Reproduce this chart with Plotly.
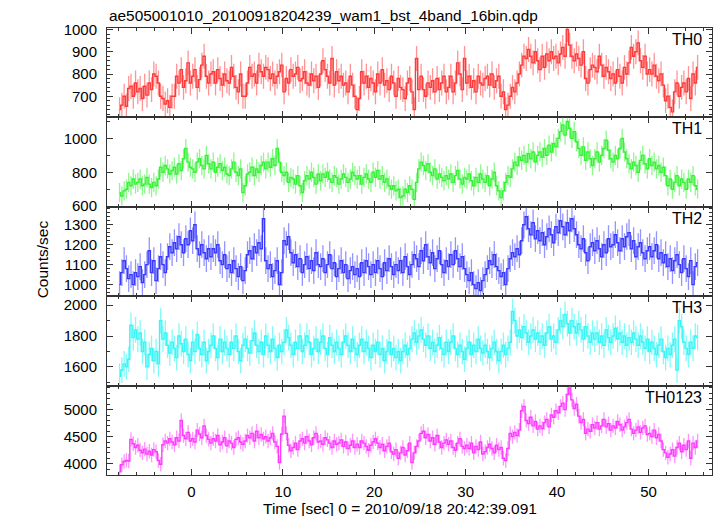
import numpy as np
import plotly.graph_objects as go
from plotly.subplots import make_subplots

title = "ae505001010_20100918204239_wam1_bst_4band_16bin.qdp"
x_title = "Time [sec] 0 = 2010/09/18 20:42:39.091"
y_title = "Counts/sec"
t_start = -8.0
bin_width = 0.25
panel_names = ["TH0", "TH1", "TH2", "TH3", "TH0123"]

th0 = [
    640, 660, 700, 655, 735, 745, 700, 760,
    720, 735, 690, 745, 705, 760, 730, 800,
    790, 760, 700, 690, 665, 680, 650, 700,
    700, 790, 760, 820, 740, 770, 850, 760,
    790, 820, 740, 775, 840, 880, 790, 760,
    800, 810, 760, 820, 780, 750, 800, 770,
    760, 830, 790, 740, 720, 800, 700, 700,
    760, 830, 790, 800, 760, 840, 810, 790,
    830, 820, 780, 800, 760, 790, 810, 840,
    720, 780, 760, 820, 790, 800, 830, 770,
    780, 810, 760, 750, 800, 770, 790, 740,
    800, 860, 820, 790, 760, 870, 750, 810,
    770, 790, 750, 760, 720, 790, 750, 700,
    640, 690, 810, 760, 790, 740, 780, 760,
    720, 800, 760, 820, 750, 770, 730, 790,
    760, 700, 780, 740, 730, 690, 760, 780,
    720, 640, 870, 730, 790, 730, 700, 760,
    740, 770, 720, 780, 730, 760, 790, 720,
    740, 790, 720, 760, 850, 800, 730, 870,
    760, 790, 740, 770, 720, 790, 760, 750,
    780, 790, 750, 800, 740, 770, 790, 700,
    720, 640, 660, 700, 740, 720, 760, 800,
    840, 880, 870, 910, 880, 850, 900, 860,
    820, 880, 830, 890, 860, 900, 870, 880,
    850, 890, 920, 880, 1000, 930, 880, 860,
    890, 870, 840, 900, 780, 760, 820, 840,
    830, 810, 880, 840, 790, 830, 810, 780,
    800, 760, 820, 790, 760, 830, 800, 850,
    920, 880, 900, 940, 860, 830, 880, 800,
    820, 800, 840, 790, 770, 800, 750, 680,
    700, 650, 630, 720, 760, 700, 740, 760,
    720, 780, 690, 800, 760, 830,
]

th1 = [
    680, 660, 690, 700, 740, 720, 760, 730,
    740, 760, 720, 730, 770, 730, 710, 740,
    720, 760, 830, 800, 840, 820, 790, 810,
    830, 790, 850, 810, 880, 940, 860, 830,
    820, 800, 860, 880, 840, 820, 900, 850,
    820, 860, 800, 830, 850, 810, 830, 790,
    780, 820, 860, 800, 780, 820, 680, 720,
    790, 800, 830, 780, 820, 800, 840, 860,
    820, 860, 830, 880, 840, 940, 860, 800,
    780, 800, 740, 770, 760, 730, 780, 720,
    680, 750, 780, 760, 800, 770, 730, 790,
    750, 790, 770, 800, 760, 740, 780, 770,
    730, 760, 790, 770, 740, 760, 800, 780,
    760, 780, 730, 770, 790, 760, 740, 800,
    770, 810, 760, 780, 740, 760, 720, 700,
    720, 690, 700, 650, 660, 700, 680, 720,
    700, 640, 740, 820, 860, 840, 810, 850,
    800, 780, 820, 760, 790, 770, 750, 780,
    760, 790, 740, 780, 810, 760, 730, 770,
    760, 790, 750, 720, 770, 740, 790, 760,
    740, 780, 720, 760, 800, 720, 690, 650,
    690, 740, 780, 770, 820, 860, 840, 890,
    870, 900, 860, 910, 880, 920, 860, 900,
    920, 890, 940, 900, 960, 920, 970, 950,
    1000, 1040, 1080, 1020, 1100, 1060, 1000, 1040,
    980, 940, 900, 950, 870, 920, 880, 840,
    880, 920, 860, 900, 940, 990, 930, 880,
    860, 900, 880, 940, 1000, 920, 880, 850,
    820, 860, 840, 800, 870, 900, 850, 820,
    880, 840, 860, 820, 840, 800, 830, 780,
    720, 760, 700, 740, 780, 720, 760, 740,
    700, 760, 740, 780, 720, 700,
]

th2 = [
    1000, 1060, 1120, 1080, 1030, 1050, 1000, 1060,
    1040, 1090, 1010, 1050, 1100, 1170, 1060, 1120,
    1020, 1080, 1140, 1100, 1060, 1140, 1190, 1160,
    1210, 1180, 1240, 1200, 1160, 1230, 1200, 1270,
    1220, 1300, 1180, 1150, 1200, 1160, 1130, 1180,
    1140, 1180, 1160, 1200, 1120, 1100, 1150, 1080,
    1100, 1060, 1120, 1080, 1040, 1090, 1020, 1070,
    1150, 1170, 1130, 1190, 1160, 1210, 1180, 1330,
    1120, 1080, 1100, 1040, 1070, 1120, 1000, 1060,
    1220, 1200, 1240, 1160, 1110, 1150, 1090, 1130,
    1060, 1100, 1140, 1080, 1120, 1070, 1160, 1100,
    1090, 1130, 1060, 1100, 1150, 1080, 1110, 1040,
    1080, 1120, 1060, 1100, 1030, 1070, 1090, 1050,
    1080, 1040, 1110, 1060, 1120, 1090, 1050, 1100,
    1060, 1120, 1080, 1040, 1110, 1070, 1130, 1090,
    1050, 1100, 1070, 1120, 1060, 1140, 1090, 1050,
    1100, 1150, 1130, 1090, 1170, 1120, 1200, 1140,
    1110, 1160, 1080, 1130, 1170, 1100, 1060, 1120,
    1090, 1150, 1100, 1170, 1130, 1090, 1140, 1080,
    1050, 1020, 1060, 1000, 980, 1010, 970, 1020,
    1050, 1080, 1120, 1100, 1150, 1090, 1070, 1040,
    1060, 1000, 1080, 1130, 1160, 1140, 1180, 1150,
    1220, 1300, 1340, 1280, 1250, 1310, 1230, 1270,
    1220, 1260, 1200, 1240, 1280, 1250, 1210, 1290,
    1260, 1320, 1290, 1250, 1310, 1270, 1330, 1280,
    1250, 1200, 1180, 1230, 1160, 1120, 1190, 1210,
    1170, 1220, 1180, 1140, 1200, 1160, 1230, 1190,
    1200, 1250, 1210, 1170, 1230, 1190, 1240, 1260,
    1180, 1220, 1140, 1190, 1210, 1160, 1130, 1170,
    1190, 1140, 1170, 1200, 1130, 1160, 1110, 1150,
    1090, 1130, 1070, 1120, 1150, 1100, 1060, 1130,
    1080, 1040, 1120, 1000, 1090, 1110,
]

th3 = [
    1540, 1580, 1620, 1600, 1650, 1870, 1790, 1840,
    1780, 1820, 1700, 1760, 1600, 1680, 1720, 1640,
    1700, 1620, 1900, 1780, 1820, 1740, 1690, 1760,
    1720, 1660, 1800, 1750, 1700, 1780, 1680, 1640,
    1760, 1700, 1810, 1720, 1680, 1760, 1640, 1700,
    1740, 1800, 1720, 1660, 1780, 1700, 1760, 1720,
    1680, 1760, 1720, 1800, 1700, 1640, 1740, 1780,
    1720, 1690, 1770, 1820, 1740, 1700, 1760, 1680,
    1800, 1740, 1700, 1780, 1720, 1660, 1740, 1700,
    1760, 1840, 1790, 1740, 1680, 1760, 1720, 1800,
    1700, 1740, 1800, 1760, 1680, 1720, 1780, 1700,
    1760, 1800, 1720, 1680, 1790, 1740, 1700, 1760,
    1720, 1680, 1760, 1800, 1740, 1700, 1780, 1720,
    1680, 1740, 1780, 1700, 1760, 1720, 1660, 1740,
    1700, 1760, 1680, 1720, 1640, 1700, 1760, 1680,
    1720, 1660, 1700, 1640, 1700, 1740, 1680, 1720,
    1780, 1820, 1760, 1800, 1840, 1780, 1740, 1800,
    1720, 1760, 1700, 1740, 1790, 1720, 1680, 1760,
    1700, 1760, 1800, 1720, 1680, 1740, 1700, 1650,
    1720, 1760, 1680, 1740, 1700, 1780, 1720, 1690,
    1740, 1700, 1660, 1720, 1760, 1700, 1640, 1700,
    1740, 1680, 1720, 1760, 1960, 1900, 1800, 1840,
    1790, 1860, 1820, 1760, 1800, 1840, 1780, 1820,
    1760, 1800, 1740, 1820, 1860, 1780, 1800, 1760,
    1840, 1900, 1860, 1940, 1880, 1820, 1900, 1860,
    1820, 1880, 1840, 1780, 1860, 1800, 1760, 1820,
    1780, 1820, 1760, 1800, 1740, 1840, 1790, 1760,
    1800, 1850, 1780, 1820, 1760, 1800, 1740, 1790,
    1760, 1820, 1780, 1740, 1800, 1760, 1720, 1780,
    1700, 1760, 1720, 1680, 1740, 1780, 1700, 1660,
    1720, 1680, 1740, 1780, 1580, 1900, 1860, 1760,
    1720, 1680, 1760, 1720, 1800, 1790,
]

th0123 = [
    3850, 3980, 4040, 4060, 4050, 4450, 4370, 4300,
    4340, 4250, 4200, 4270, 4180, 4230, 4160, 4260,
    4220, 4060, 3990, 4350, 4420, 4380, 4460, 4400,
    4350, 4480, 4420, 4800, 4520, 4460, 4580, 4420,
    4460, 4400, 4620, 4550, 4480, 4700, 4520, 4450,
    4380, 4460, 4420, 4520, 4350, 4400, 4480, 4330,
    4420, 4380, 4300, 4450, 4480, 4400, 4360, 4420,
    4520, 4480, 4560, 4420, 4600, 4480, 4540, 4460,
    4500, 4420, 4480, 4560, 4400, 4320, 4020, 4550,
    4880, 4560, 4340, 4240, 4300, 4380, 4260, 4420,
    4460, 4380, 4500, 4420, 4350, 4480, 4560, 4400,
    4420, 4360, 4480, 4440, 4380, 4300, 4420, 4360,
    4380, 4440, 4320, 4400, 4280, 4340, 4420, 4300,
    4360, 4300, 4420, 4380, 4320, 4250, 4340, 4400,
    4460, 4380, 4300, 4360, 4240, 4320, 4380, 4220,
    4180, 4260, 4100, 4200, 4300, 4160, 4240, 4380,
    4020, 4200, 4320, 4420, 4560, 4600, 4480, 4540,
    4420, 4480, 4360, 4520, 4400, 4300, 4380, 4440,
    4360, 4420, 4300, 4250, 4380, 4460, 4320, 4280,
    4340, 4280, 4380, 4200, 4320, 4260, 4400, 4180,
    4220, 4300, 4360, 4280, 4200, 4340, 4260, 4300,
    4100, 4060, 4280, 4560, 4500, 4580, 4520, 4620,
    4980, 5060, 4800, 4740, 4860, 4700, 4780, 4640,
    4700, 4650, 4760, 4820, 4680, 4900, 4860, 4980,
    4940, 5060, 5120, 5000, 5280, 5400, 5180, 5020,
    5100, 4880, 4760, 4820, 4560, 4640, 4600, 4720,
    4660, 4760, 4640, 4700, 4820, 4680, 4740, 4620,
    4700, 4660, 4780, 4720, 4620, 4680, 4760, 4820,
    4640, 4560, 4620, 4680, 4580, 4660, 4700, 4540,
    4560, 4500, 4620, 4480, 4540, 4420, 4260, 4200,
    4120, 4180, 4260, 4140, 4300, 4380, 4220, 4340,
    4260, 4420, 4100, 4380, 4300, 4420,
]

series = [th0, th1, th2, th3, th0123]
errors = [56, 57, 67, 83, 133]

y_ranges = [[605, 1007], [596, 1124], [942, 1390], [1479, 2058], [3791, 5444]]
y_dticks = [100, 200, 100, 200, 500]
y_minor = [20, 100, 20, 100, 100]
line_colors = ["#ff3a3a", "#36f236", "#3a3aff", "#3af5f5", "#ff3aff"]
err_colors = ["rgba(255,60,60,0.55)", "rgba(50,240,50,0.55)", "rgba(60,60,255,0.55)",
              "rgba(50,245,245,0.6)", "rgba(255,60,255,0.55)"]

FONT = "Liberation Sans, Arial, Helvetica, sans-serif"

fig = make_subplots(rows=5, cols=1, shared_xaxes=True, vertical_spacing=0)

for i, vals in enumerate(series):
    t = t_start + bin_width * (np.arange(len(vals)) + 0.5)
    fig.add_trace(go.Scatter(
        x=t, y=vals, mode="lines",
        line=dict(shape="hvh", width=1.4, color=line_colors[i]),
        error_y=dict(type="constant", value=errors[i], width=0,
                     thickness=1.3, color=err_colors[i]),
        showlegend=False, hoverinfo="skip",
    ), row=i + 1, col=1)

    fig.update_yaxes(
        range=y_ranges[i], dtick=y_dticks[i], tick0=0,
        minor=dict(ticks="inside", dtick=y_minor[i], ticklen=3, tickcolor="#333", tickwidth=1),
        row=i + 1, col=1)

    fig.add_annotation(
        text=panel_names[i], xref="x domain", yref="y domain" if i == 0 else f"y{i+1} domain",
        x=1, y=1, xanchor="right", yanchor="top", xshift=-8, yshift=-1,
        showarrow=False, font=dict(size=16, color="black", family=FONT))

fig.update_xaxes(
    range=[-9.25, 56.95], dtick=10, tick0=0, automargin=False,
    ticks="inside", ticklen=6, tickwidth=1, tickcolor="#333",
    minor=dict(ticks="inside", dtick=2, ticklen=3, tickcolor="#333", tickwidth=1),
    showline=True, linecolor="#333", linewidth=1, mirror="ticks",
    showgrid=False, zeroline=False,
    tickfont=dict(size=15, color="black", family=FONT),
    ticklabelstandoff=3,
)
fig.update_yaxes(
    automargin=False,
    ticks="inside", ticklen=6, tickwidth=1, tickcolor="#333",
    showline=True, linecolor="#333", linewidth=1, mirror="ticks",
    showgrid=False, zeroline=False,
    tickfont=dict(size=15, color="black", family=FONT),
    ticklabelstandoff=6,
)

fig.add_annotation(text=title, xref="paper", yref="paper", x=0, y=1,
                   xanchor="left", yanchor="bottom", yshift=2, showarrow=False,
                   font=dict(size=15.4, color="black", family=FONT))
fig.add_annotation(text=x_title, xref="paper", yref="paper", x=0.484, y=-0.074,
                   xanchor="center", yanchor="middle", showarrow=False,
                   font=dict(size=15.5, color="black", family=FONT))
fig.add_annotation(text=y_title, xref="paper", yref="paper", x=-0.107, y=0.483,
                   xanchor="center", yanchor="middle", textangle=-90, showarrow=False,
                   font=dict(size=15.5, color="black", family=FONT))

fig.update_layout(
    width=717, height=516,
    margin=dict(l=107, r=5, t=28, b=41),
    paper_bgcolor="white", plot_bgcolor="white",
    font=dict(family=FONT, color="black"),
)

fig.write_html("out.html", config={"displayModeBar": False},
               post_script="document.body.style.margin='0';document.body.style.padding='0';")
